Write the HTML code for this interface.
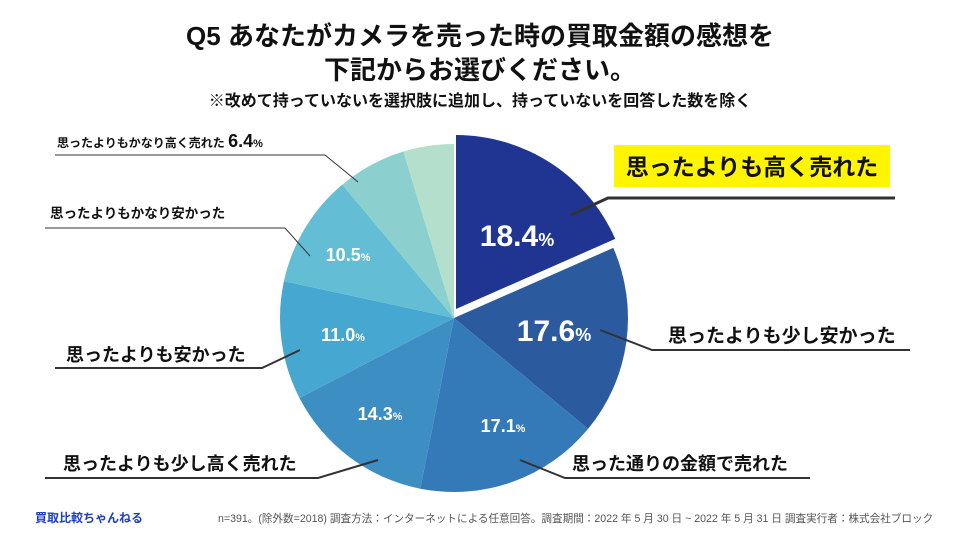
<!DOCTYPE html>
<html><head><meta charset="utf-8"><style>
body{margin:0;width:960px;height:540px;background:#fff;overflow:hidden;font-family:"Liberation Sans","Noto Sans CJK JP",sans-serif}
</style></head><body>
<svg width="960" height="540" xmlns="http://www.w3.org/2000/svg" font-family="Liberation Sans, Noto Sans CJK JP, sans-serif">
<text x="480" y="45" text-anchor="middle" font-size="26" font-weight="bold" fill="#111">Q5 あなたがカメラを売った時の買取金額の感想を</text>
<text x="480" y="79" text-anchor="middle" font-size="26" font-weight="bold" fill="#111">下記からお選びください。</text>
<text x="480" y="106" text-anchor="middle" font-size="16" font-weight="bold" fill="#111">※改めて持っていないを選択肢に追加し、持っていないを回答した数を除く</text>
<g id="slices"></g>
<g id="labels" font-weight="bold"></g>
<text x="35" y="522" font-size="12" font-weight="bold" fill="#1d3ec8">買取比較ちゃんねる</text>
<text x="218" y="522" font-size="10.6" fill="#555">n=391。(除外数=2018) 調査方法：インターネットによる任意回答。調査期間：2022 年 5 月 30 日 ~ 2022 年 5 月 31 日 調査実行者：株式会社ブロック</text>
</svg>
<script>
const categories=["思ったよりも高く売れた","思ったよりも少し安かった","思った通りの金額で売れた","思ったよりも少し高く売れた","思ったよりも安かった","思ったよりもかなり安かった","思ったよりもかなり高く売れた","その他"];
const values=[18.4,17.6,17.1,14.3,11.0,10.5,6.4,4.7];
const colors=["#1f3591","#2c5a9e","#3479b8","#3d8ec3","#46a8d0","#63bdd4","#8ccfcf","#b3dfcc"];
const cx=454,cy=318,r=174;
const NS="http://www.w3.org/2000/svg";
const total=values.reduce((a,b)=>a+b,0);
function pt(a,rr,ox,oy){return [ox+rr*Math.sin(a),oy-rr*Math.cos(a)];}
const sg=document.getElementById('slices');
let acc=0;const mids=[];
values.forEach((v,i)=>{
  const a0=acc/total*2*Math.PI,a1=(acc+v)/total*2*Math.PI;acc+=v;
  mids.push((a0+a1)/2);
  const ox=cx+(i===0?2:0),oy=cy+(i===0?-9:0);
  const p0=pt(a0,r,ox,oy),p1=pt(a1,r,ox,oy);
  const p=document.createElementNS(NS,'path');
  p.setAttribute('d',`M${ox},${oy}L${p0[0]},${p0[1]}A${r},${r} 0 ${a1-a0>Math.PI?1:0} 1 ${p1[0]},${p1[1]}Z`);
  p.setAttribute('fill',colors[i]);
  
  
  sg.appendChild(p);
});
const lg=document.getElementById('labels');
function txt(x,y,s,size,fill,anchor,name){
  const t=document.createElementNS(NS,'text');
  t.setAttribute('x',x);t.setAttribute('y',y);t.setAttribute('font-size',size);
  t.setAttribute('fill',fill);t.setAttribute('text-anchor',anchor||'start');
  
  
  t.innerHTML=s;lg.appendChild(t);return t;
}
function line(pts,w,name){
  const l=document.createElementNS(NS,'polyline');
  l.setAttribute('points',pts);l.setAttribute('fill','none');
  l.setAttribute('stroke','#333');l.setAttribute('stroke-width',w);
  
  
  lg.appendChild(l);
}
const pctPos=[[517,246,30],[554,341,30],[503,432,18],[380,420,18],[343,341,18],[348,261,18]];
pctPos.forEach((p,i)=>{
  txt(p[0],p[1],values[i].toFixed(1)+`<tspan font-size="${p[2]*0.6}">%</tspan>`,p[2],'#fff','middle','percent-label-'+(i+1));
});
line("571,215 608,198 895,198",3,'leader-1');
line("600,330 652,350 910,350",2,'leader-2');
line("520,460 565,478 810,478",2,'leader-3');
line("378,460 318,478 45,478",2,'leader-4');
line("300,350 262,368 55,368",2,'leader-5');
line("310,256 285,228 45,228",1,'leader-6');
line("358,182 325,155 55,155",1,'leader-7');
const hl=document.createElementNS(NS,'rect');
hl.setAttribute('x',614);hl.setAttribute('y',145);hl.setAttribute('width',276);hl.setAttribute('height',42);hl.setAttribute('fill','#fff500');


lg.appendChild(hl);
txt(752,175,categories[0],23,'#111','middle','category-label-1');
txt(668,342,categories[1],19,'#111','start','category-label-2');
txt(572,470,categories[2],18,'#111','start','category-label-3');
txt(63,470,categories[3],18,'#111','start','category-label-4');
txt(66,361,categories[4],18,'#111','start','category-label-5');
txt(50,218,categories[5],13.5,'#111','start','category-label-6');
txt(57,147,categories[6]+` <tspan font-size="18">${values[6].toFixed(1)}</tspan><tspan font-size="11">%</tspan>`,12,'#111','start','category-label-7');
</script>
</body></html>
